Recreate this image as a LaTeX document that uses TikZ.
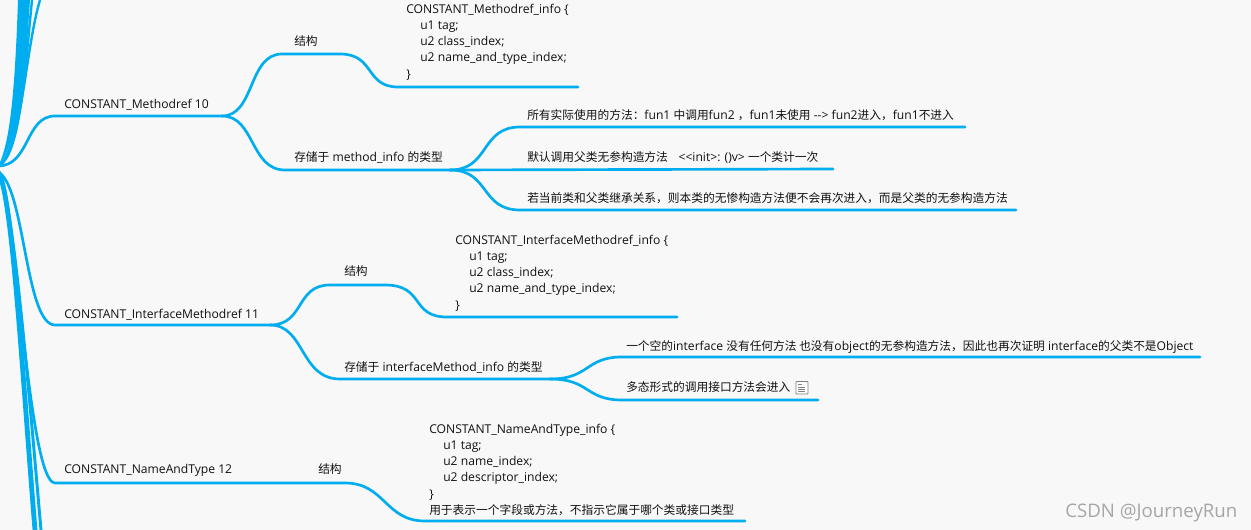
\documentclass[tikz,border=0pt]{standalone}
\usepackage{fontspec}
\setmainfont{Open Sans}
\newfontfamily\cjkf[Scale=0.966]{Noto Sans CJK SC}
\newcommand{\zh}[1]{{\cjkf #1}}
\definecolor{bgc}{HTML}{F8F8F8}
\definecolor{blu}{HTML}{00ADEF}
\definecolor{txt}{HTML}{111111}
\definecolor{wm}{HTML}{A6A6A6}
\tikzset{
 x=0.75pt,y=-0.75pt,
 lbl/.style={inner sep=0pt,anchor=base west,text=txt,font=\fontsize{9.1pt}{10pt}\selectfont},
 code/.style={lbl,anchor=north west,align=left,font=\fontsize{9.1pt}{12.1pt}\selectfont},
 br/.style={draw=blu,line width=2pt,line cap=round},
}
\begin{document}
\begin{tikzpicture}
\useasboundingbox[fill=bgc] (0,0) rectangle (1251,530);
% junction coordinates
\coordinate (root) at (-2,166);
\coordinate (low) at (-2,172);
\coordinate (m) at (222,116);
\coordinate (ms) at (282,54);
\coordinate (mi) at (285,170);
\coordinate (mi2) at (450,170);
\coordinate (i) at (270,325);
\coordinate (is) at (385,285);
\coordinate (ii) at (550,379);
\coordinate (n) at (345,483);
% upper bundle
\fill[blu] (root) .. controls (10,145) and (15,90) .. (18,0) -- (30,0) .. controls (26,55) and (24,135) .. (root) -- cycle;
\draw[blu,line width=1.8pt] (root) .. controls (20,158) and (25,70) .. (32,0);
\draw[blu,line width=1.8pt] (root) .. controls (22,150) and (25,50) .. (40,0);
% lower bundle
\draw[blu,line width=3.6pt] (low) .. controls (12,190) and (22,370) .. (35,530);
\draw[blu,line width=2.2pt] (low) .. controls (12,190) and (27,370) .. (41,530);
% main branches
\draw[br] (root) .. controls (30,166) and (25,116) .. (55,116) -- (m);
\draw[br] (m) .. controls (255,116) and (248,54) .. (ms) -- (340,54) .. controls (375,54) and (365,87) .. (398,87) -- (578,87);
\draw[br] (m) .. controls (255,116) and (250,170) .. (mi) -- (mi2);
\draw[br] (mi2) .. controls (490,170) and (480,127) .. (520,127) -- (965,127);
\draw[br] (mi2) -- (833,169);
\draw[br] (mi2) .. controls (490,170) and (480,210) .. (520,210) -- (1016,210);
\draw[br] (low) .. controls (25,185) and (25,325) .. (55,325) -- (i);
\draw[br] (i) .. controls (305,325) and (295,285) .. (330,285) -- (is) .. controls (425,285) and (410,317) .. (447,317) -- (677,317);
\draw[br] (i) .. controls (305,325) and (300,379) .. (340,379) -- (ii);
\draw[br] (ii) .. controls (590,379) and (585,357) .. (622,357) -- (1200,357);
\draw[br] (ii) .. controls (590,379) and (585,400) .. (622,400) -- (818,400);
\draw[br] (low) .. controls (16,195) and (28,483) .. (55,483) -- (n) .. controls (385,483) and (385,521) .. (425,521) -- (745,521);
% labels
\node[lbl] (t1) at (64,109) {CONSTANT\_Methodref 10};
\node[lbl] (t2) at (294,46) {\zh{结构}};
\node[code] (t3) at (406,4) {CONSTANT\_Methodref\_info \{\\\hspace*{10.5pt}u1 tag;\\\hspace*{10.5pt}u2 class\_index;\\\hspace*{10.5pt}u2 name\_and\_type\_index;\\\}};
\node[lbl] (t4) at (294,162) {\zh{存储于} method\_info \zh{的类型}};
\node[lbl] (t5) at (527,120) {\zh{所有实际使用的方法：}fun1 \zh{中调用}fun2 \zh{，}fun1\zh{未使用} {-}{-}{>} fun2\zh{进入，}fun1\zh{不进入}};
\node[lbl] (t6) at (527,162) {\zh{默认调用父类无参构造方法}\hspace{8pt}<{}<init>: ()v> \zh{一个类计一次}};
\node[lbl] (t7) at (527,203) {\zh{若当前类和父类继承关系，则本类的无惨构造方法便不会再次进入，而是父类的无参构造方法}};
\node[lbl] (t8) at (64,319) {CONSTANT\_InterfaceMethodref 11};
\node[lbl] (t9) at (344,276) {\zh{结构}};
\node[code] (t10) at (455,235) {CONSTANT\_InterfaceMethodref\_info \{\\\hspace*{10.5pt}u1 tag;\\\hspace*{10.5pt}u2 class\_index;\\\hspace*{10.5pt}u2 name\_and\_type\_index;\\\}};
\node[lbl] (t11) at (344,372) {\zh{存储于} interfaceMethod\_info \zh{的类型}};
\node[lbl] (t12) at (626,350) {\zh{一个空的}interface \zh{没有任何方法 也没有}object\zh{的无参构造方法，因此也再次证明} interface\zh{的父类不是}Object};
\node[lbl] (t13) at (626,392) {\zh{多态形式的调用接口方法会进入}};
\node[lbl] (t14) at (64,473) {CONSTANT\_NameAndType 12};
\node[lbl] (t15) at (318,473) {\zh{结构}};
\node[code] (t16) at (429,424) {CONSTANT\_NameAndType\_info \{\\\hspace*{10.5pt}u1 tag;\\\hspace*{10.5pt}u2 name\_index;\\\hspace*{10.5pt}u2 descriptor\_index;\\\}};
\node[lbl] (t17) at (429,514) {\zh{用于表示一个字段或方法，不指示它属于哪个类或接口类型}};
\node[lbl,text=wm,font=\fontsize{14pt}{16pt}\selectfont] (wm) at (1065,517) {CSDN @JourneyRun};
% note icon
\draw[gray,line width=0.7pt,fill=white,rounded corners=0.6pt] (796,381.5) rectangle (808,394);
\foreach \yy/\xx in {384.5/802,387/805,389.5/805,391.5/805}{\draw[gray,line width=0.6pt] (798,\yy) -- (\xx,\yy);}
\end{tikzpicture}
\end{document}
